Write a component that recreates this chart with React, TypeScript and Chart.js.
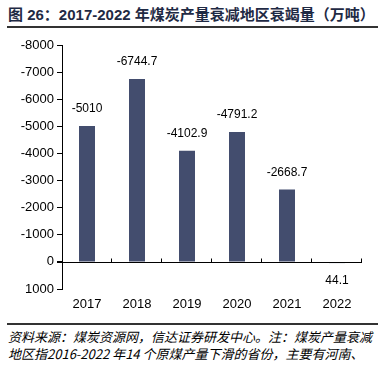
import React, { useEffect, useRef } from "react";
import { Chart, registerables } from "chart.js";

Chart.register(...registerables);

const categories = ["2017", "2018", "2019", "2020", "2021", "2022"];
const values = [-5010, -6744.7, -4102.9, -4791.2, -2668.7, 44.1];
const valueLabels = ["-5010", "-6744.7", "-4102.9", "-4791.2", "-2668.7", "44.1"];
const yTicks = [-8000, -7000, -6000, -5000, -4000, -3000, -2000, -1000, 0, 1000];

const titleText = "图 26：2017-2022 年煤炭产量衰减地区衰竭量（万吨）";
const footLine1 = "资料来源：煤炭资源网，信达证券研发中心。注：煤炭产量衰减";
const footLine2 = "地区指2016-2022 年14 个原煤产量下滑的省份，主要有河南、";

const BAR_COLOR = "#434D6E";
const FONT = "'Liberation Sans', Arial, 'Noto Sans CJK SC', sans-serif";

const zeroLinePlugin = {
  id: "zeroLine",
  afterDatasetsDraw(chart: any) {
    const { ctx, chartArea, scales } = chart;
    const y0 = Math.round(scales.y.getPixelForValue(0)) + 0.5;
    ctx.save();
    ctx.strokeStyle = "#000";
    ctx.lineWidth = 1;
    ctx.beginPath();
    ctx.moveTo(chartArea.left - 5, y0);
    ctx.lineTo(chartArea.right, y0);
    const n = categories.length;
    const w = (chartArea.right - chartArea.left) / n;
    for (let i = 1; i <= n; i++) {
      const x = Math.round(chartArea.left + i * w) - 0.5;
      ctx.moveTo(x, y0);
      ctx.lineTo(x, y0 - 4);
    }
    ctx.stroke();

    const meta = chart.getDatasetMeta(0);
    ctx.fillStyle = "#000";
    ctx.font = `12px ${FONT}`;
    ctx.textAlign = "center";
    ctx.textBaseline = "middle";
    meta.data.forEach((el: any, i: number) => {
      const v = values[i];
      const y = v < 0 ? el.y - 17 : el.y + 18;
      ctx.fillText(valueLabels[i], el.x, y);
    });
    ctx.restore();
  },
};

export default function App() {
  const ref = useRef<HTMLCanvasElement>(null);
  useEffect(() => {
    if (!ref.current) return;
    const chart = new Chart(ref.current, {
      type: "bar",
      data: {
        labels: categories,
        datasets: [
          {
            data: values,
            backgroundColor: BAR_COLOR,
            barPercentage: 0.32,
            categoryPercentage: 1,
          },
        ],
      },
      plugins: [zeroLinePlugin],
      options: {
        animation: false,
        responsive: false,
        maintainAspectRatio: false,
        layout: { padding: { top: 15, right: 29, bottom: 1, left: 0 } },
        plugins: { legend: { display: false }, tooltip: { enabled: false } },
        scales: {
          x: {
            grid: { display: false },
            border: { display: false },
            ticks: { color: "#000", font: { size: 13, family: FONT }, padding: 0 },
            afterFit: (s: any) => {
              s.height = 30;
            },
          },
          y: {
            reverse: true,
            min: -8000,
            max: 1000,
            afterBuildTicks: (s: any) => {
              s.ticks = yTicks.map((v) => ({ value: v }));
            },
            grid: { drawOnChartArea: false, drawTicks: true, tickLength: 5, color: "#000" },
            border: { display: true, color: "#000", width: 1 },
            ticks: {
              color: "#000",
              font: { size: 13, family: FONT },
              padding: 3,
              callback: (v: any) => String(v),
            },
            afterFit: (s: any) => {
              s.width = 62;
            },
          },
        },
      },
    });
    return () => chart.destroy();
  }, []);

  return (
    <div
      style={{
        position: "absolute",
        left: 0,
        top: 0,
        width: 391,
        height: 365,
        overflow: "hidden",
        background: "#fff",
      }}
    >
      <div
        style={{
          position: "absolute",
          left: 8,
          top: 3,
          fontFamily: FONT,
          fontWeight: "bold",
          fontSize: 15,
          color: "#1F2A44",
          whiteSpace: "nowrap",
        }}
      >
        {titleText}
      </div>
      <div style={{ position: "absolute", left: 7, top: 26, width: 371, height: 2, background: "#333" }} />
      <canvas
        ref={ref}
        width={391}
        height={290}
        style={{ position: "absolute", left: 0, top: 30, width: 391, height: 290 }}
      />
      <div style={{ position: "absolute", left: 7, top: 323, width: 371, height: 2, background: "#333" }} />
      <div
        style={{
          position: "absolute",
          left: 8,
          top: 328,
          fontFamily: "'Noto Sans CJK SC', sans-serif",
          fontStyle: "italic",
          fontSize: 13,
          lineHeight: "17px",
          color: "#000",
          whiteSpace: "nowrap",
        }}
      >
        <div>{footLine1}</div>
        <div>{footLine2}</div>
      </div>
    </div>
  );
}
